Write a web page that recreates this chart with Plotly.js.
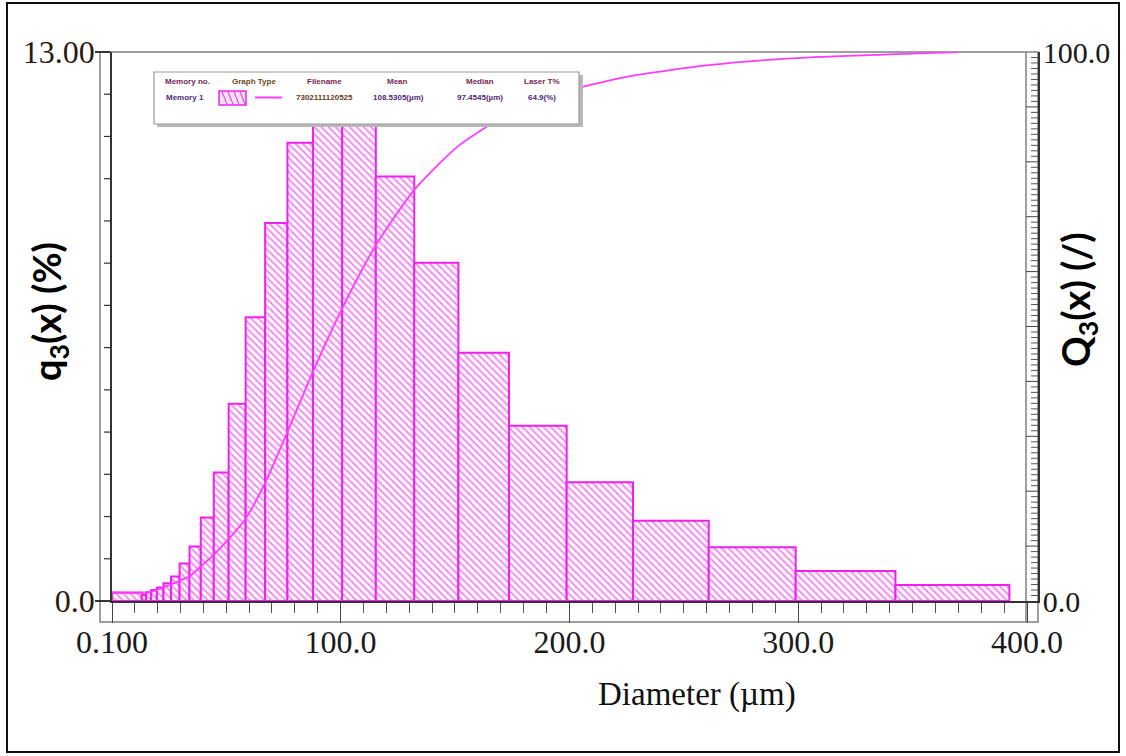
<!DOCTYPE html>
<html>
<head>
<meta charset="utf-8">
<script src="https://cdn.plot.ly/plotly-3.0.1.min.js"></script>
<style>
  html, body { margin: 0; padding: 0; background: #ffffff; }
  #chart { width: 1126px; height: 756px; }
</style>
</head>
<body>
<div id="chart"></div>
<script>
// ---------------- data ----------------
// bin edges of the particle-size histogram (µm)
const binEdges = [0.1, 13.12, 15.03, 17.22, 19.72, 22.59, 25.89, 29.65, 33.97, 38.91, 44.58,
  51.07, 58.50, 67.02, 76.77, 87.94, 100.7, 115.4, 132.2, 151.5, 173.6, 198.8, 227.8,
  260.9, 298.9, 342.5, 392.3];
// frequency q3(x) per bin (%)
const q3Values = [0.2, 0.14, 0.2, 0.26, 0.32, 0.42, 0.58, 0.89, 1.29, 1.98, 3.04,
  4.67, 6.72, 8.95, 10.85, 11.5, 11.6, 10.05, 8.01, 5.88, 4.15, 2.81, 1.90,
  1.27, 0.71, 0.38];
// cumulative curve Q3(x) (%)
const cumDiameter = [0.1, 13.12, 15.03, 17.22, 19.72, 22.59, 25.89, 29.65, 33.97, 38.91, 44.58,
  51.07, 58.50, 67.02, 76.77, 87.94, 100.7, 115.4, 132.2, 151.5, 173.6, 198.8, 227.8,
  260.9, 298.9, 342.5, 370];
const cumQ3 = [1.5, 1.5, 1.6, 1.75, 2.0, 2.5, 3.0, 3.7, 4.5, 6.3, 8.4,
  11.3, 15.0, 21.5, 30.8, 41.8, 53.3, 64.8, 74.9, 82.9, 88.8, 92.9, 95.7,
  97.6, 98.9, 99.6, 100];
// axis ticks and labels
const xTickVals = [0.1, 100, 200, 300, 400];
const xTickText = ["0.100", "100.0", "200.0", "300.0", "400.0"];
const xMinorTicks = [10, 20, 30, 40, 50, 60, 70, 80, 90, 110, 120, 130, 140, 150, 160, 170, 180, 190,
  210, 220, 230, 240, 250, 260, 270, 280, 290, 310, 320, 330, 340, 350, 360, 370, 380, 390];
const yRange = [0, 13];
const yTickVals = [0, 13];
const yTickText = ["0.0", "13.00"];
const yMinorTicks = [1, 2, 3, 4, 5, 6, 7, 8, 9, 10, 11, 12];
const y2Range = [0, 100];
const y2TickVals = [0, 100];
const y2TickText = ["0.0", "100.0"];
const y2DecadeTicks = [10, 20, 30, 40, 50, 60, 70, 80, 90];
const y2MinorTicks = Array.from({ length: 99 }, (_, i) => i + 1).filter(v => v % 10 !== 0);
// legend table
const legendHeaders = ["Memory no.", "Graph Type", "Filename", "Mean", "Median", "Laser T%"];
const legendValues = ["Memory 1", "7302111120525", "108.5305(µm)", "97.4545(µm)", "64.9(%)"];

// ---------------- derived bar geometry ----------------
const barCenters = q3Values.map((v, i) => (binEdges[i] + binEdges[i + 1]) / 2);
const barWidths = q3Values.map((v, i) => binEdges[i + 1] - binEdges[i]);

// ---------------- layout helpers (pixel -> paper) ----------------
const L = 112, R = 1038, T = 52, B = 601;
const P = x => (x - L) / (R - L);
const Q = y => (B - y) / (B - T);

const MAG = '#ee22ee';
const serif = "'Liberation Serif', 'Times New Roman', serif";
const sansB = "Lato, 'Open Sans', 'Liberation Sans', sans-serif";

const traces = [
  {
    type: 'bar',
    name: 'q3(x)',
    x: barCenters,
    y: q3Values,
    width: barWidths,
    marker: {
      color: '#fff2fd',
      line: { color: MAG, width: 2 },
      pattern: { shape: '\\', fgcolor: '#f27af2', bgcolor: '#fff6fe', size: 5, solidity: 0.3 }
    },
    showlegend: false,
    hoverinfo: 'x+y'
  },
  {
    type: 'scatter',
    mode: 'lines',
    name: 'Q3(x)',
    x: cumDiameter,
    y: cumQ3,
    yaxis: 'y2',
    line: { color: '#ff3cff', width: 1.8, shape: 'spline', smoothing: 0.6 },
    showlegend: false
  }
];

const shapes = [
  // outer figure border
  { type: 'rect', xref: 'paper', yref: 'paper', x0: P(7), x1: P(1119), y0: Q(752), y1: Q(3),
    line: { color: '#111', width: 2 }, layer: 'above' },
  // gray plot frame
  { type: 'rect', xref: 'paper', yref: 'paper', x0: P(100), x1: P(1038), y0: Q(622), y1: Q(52),
    line: { color: '#808080', width: 1.5 }, layer: 'below' },
  { type: 'line', xref: 'paper', yref: 'paper', x0: P(1026), x1: P(1026), y0: Q(622), y1: Q(52),
    line: { color: '#808080', width: 1.5 }, layer: 'below' },
  // legend shadow and box
  { type: 'rect', xref: 'paper', yref: 'paper', x0: P(157), x1: P(583), y0: Q(127), y1: Q(75),
    fillcolor: '#b8b8b8', line: { width: 0 }, layer: 'above' },
  { type: 'rect', xref: 'paper', yref: 'paper', x0: P(154), x1: P(579), y0: Q(124), y1: Q(72),
    fillcolor: '#ffffff', line: { color: '#9a9a9a', width: 1.2 }, layer: 'above' },
  // legend hatched sample
  { type: 'rect', xref: 'paper', yref: 'paper', x0: P(219), x1: P(246), y0: Q(105), y1: Q(91),
    fillcolor: '#fde0fa', line: { color: MAG, width: 1.5 }, layer: 'above' },
  { type: 'path', xref: 'paper', yref: 'paper', layer: 'above', line: { color: MAG, width: 1 },
    path: [[222, 92], [228, 92], [234, 92], [240, 92]].map(p =>
      `M${P(p[0])},${Q(p[1])} L${P(p[0] + 5)},${Q(p[1] + 12)}`).join(' ') },
  // legend line sample
  { type: 'line', xref: 'paper', yref: 'paper', x0: P(255), x1: P(282), y0: Q(97.5), y1: Q(97.5),
    line: { color: '#ff3cff', width: 2 }, layer: 'above' }
];
// axis ruler ticks (paper coordinates from the axis ranges)
const frac = (v, r) => (v - r[0]) / (r[1] - r[0]);
y2MinorTicks.forEach(v => shapes.push({
  type: 'line', xref: 'paper', yref: 'paper', x0: P(1031), x1: P(1038),
  y0: frac(v, y2Range), y1: frac(v, y2Range),
  line: { color: '#555555', width: 1 }, layer: 'above'
}));
y2DecadeTicks.forEach(v => shapes.push({
  type: 'line', xref: 'paper', yref: 'paper', x0: P(1026), x1: P(1038),
  y0: frac(v, y2Range), y1: frac(v, y2Range),
  line: { color: '#444444', width: 1 }, layer: 'above'
}));
yMinorTicks.forEach(v => shapes.push({
  type: 'line', xref: 'paper', yref: 'paper', x0: P(104), x1: P(112),
  y0: frac(v, yRange), y1: frac(v, yRange),
  line: { color: '#333333', width: 1.2 }, layer: 'above'
}));

const legendHeaderX = [187, 254, 324, 397, 480, 542];
const legendValueX = [185, 324, 398, 480, 542];
const annotations = [];
legendHeaders.forEach((t, i) => annotations.push({
  xref: 'paper', yref: 'paper', x: P(legendHeaderX[i]), y: Q(81), text: '<b>' + t + '</b>',
  showarrow: false, xanchor: 'center', yanchor: 'middle',
  font: { family: "'Liberation Sans', Arial, sans-serif", size: 8, color: i === 1 ? '#6b4a1a' : '#7a2654' }
}));
legendValues.forEach((t, i) => annotations.push({
  xref: 'paper', yref: 'paper', x: P(legendValueX[i]), y: Q(97.5), text: '<b>' + t + '</b>',
  showarrow: false, xanchor: 'center', yanchor: 'middle',
  font: { family: "'Liberation Sans', Arial, sans-serif", size: 8, color: i === 1 ? '#6b3a1a' : '#4a2a7a' }
}));
// axis titles
annotations.push({
  xref: 'paper', yref: 'paper', x: P(49), y: Q(312), text: 'q<sub>3</sub>(x) (%)', textangle: -90,
  showarrow: false, xanchor: 'center', yanchor: 'middle',
  font: { family: sansB, size: 38, color: '#000', weight: 'bold' }
});
annotations.push({
  xref: 'paper', yref: 'paper', x: P(1078), y: Q(300), text: 'Q<sub>3</sub>(x) (/)', textangle: -90,
  showarrow: false, xanchor: 'center', yanchor: 'middle',
  font: { family: sansB, size: 38, color: '#000', weight: 'bold' }
});
annotations.push({
  xref: 'paper', yref: 'paper', x: P(697), y: Q(695), text: 'Diameter (µm)',
  showarrow: false, xanchor: 'center', yanchor: 'middle',
  font: { family: serif, size: 33, color: '#111' }
});

const layout = {
  width: 1126,
  height: 756,
  margin: { l: L, r: 1126 - R, t: T, b: 756 - B, pad: 0 },
  paper_bgcolor: '#ffffff',
  plot_bgcolor: '#ffffff',
  showlegend: false,
  barmode: 'overlay',
  xaxis: {
    range: [0.1, 404.8],
    autorange: false,
    tickmode: 'array',
    tickvals: xTickVals,
    ticktext: xTickText,
    ticks: 'outside',
    ticklen: 20,
    tickwidth: 1.2,
    tickcolor: '#444',
    ticklabelstandoff: -8,
    minor: { tickmode: 'array', tickvals: xMinorTicks, ticks: 'outside', ticklen: 10, tickwidth: 1, tickcolor: '#555', showgrid: false },
    showline: true,
    linecolor: '#333',
    linewidth: 1.5,
    showgrid: false,
    zeroline: false,
    fixedrange: true,
    tickfont: { family: serif, size: 32, color: '#1a1a1a' }
  },
  yaxis: {
    range: yRange,
    autorange: false,
    tickmode: 'array',
    tickvals: yTickVals,
    ticktext: yTickText,
    ticks: 'outside',
    ticklen: 15,
    tickwidth: 1.5,
    tickcolor: '#333',
    ticklabelstandoff: -6,
    showline: true,
    linecolor: '#333',
    linewidth: 1.5,
    showgrid: false,
    zeroline: false,
    fixedrange: true,
    tickfont: { family: serif, size: 32, color: '#2a1a10' }
  },
  yaxis2: {
    range: y2Range,
    autorange: false,
    overlaying: 'y',
    side: 'right',
    anchor: 'x',
    tickmode: 'array',
    tickvals: y2TickVals,
    ticktext: y2TickText,
    ticks: 'inside',
    ticklen: 12,
    tickwidth: 1,
    tickcolor: '#444',
    ticklabelstandoff: -3,
    showline: true,
    linecolor: '#333',
    linewidth: 1.5,
    showgrid: false,
    zeroline: false,
    fixedrange: true,
    tickfont: { family: serif, size: 30, color: '#1a1a1a' }
  },
  shapes: shapes,
  annotations: annotations
};

Plotly.newPlot('chart', traces, layout, { displayModeBar: false, responsive: false });
</script>
</body>
</html>
